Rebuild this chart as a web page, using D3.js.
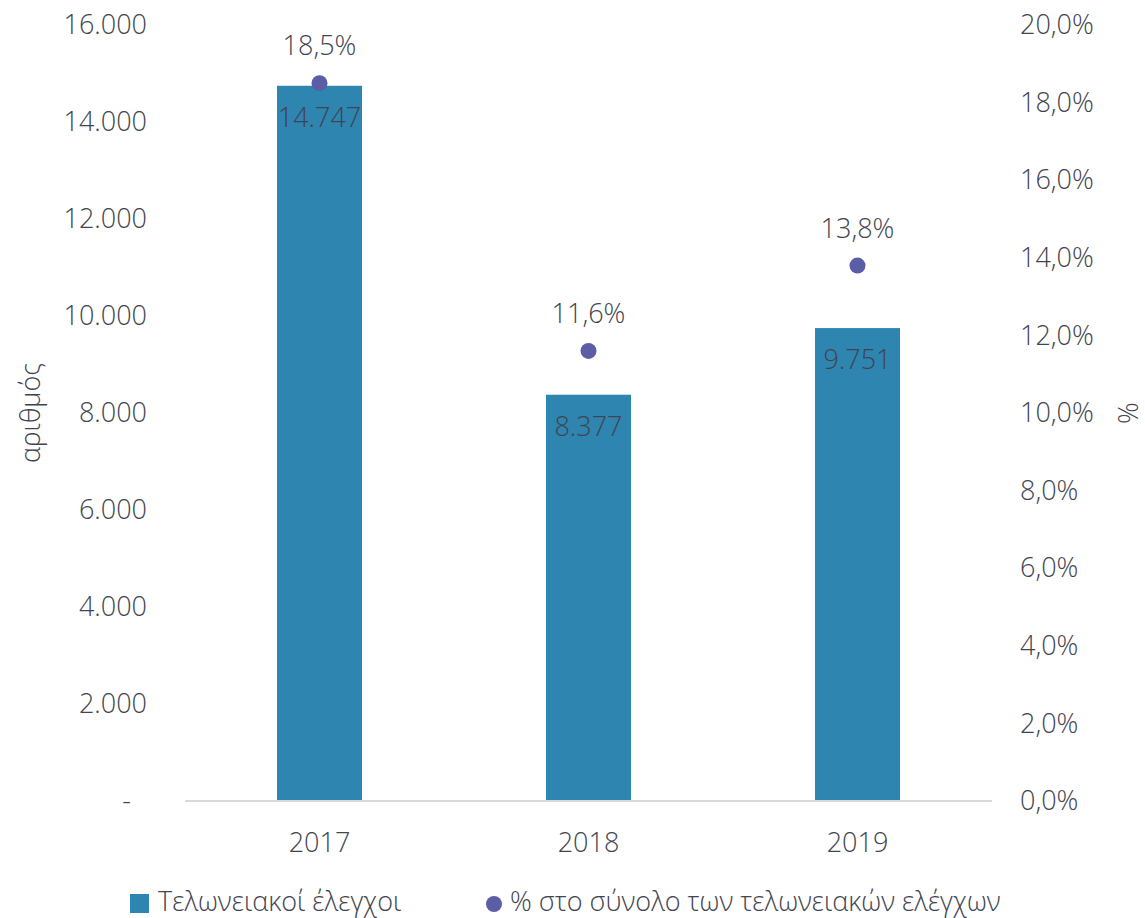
<!DOCTYPE html>
<html>
<head>
<meta charset="utf-8">
<script src="https://cdn.jsdelivr.net/npm/d3@7"></script>
<style>
  body { margin: 0; background: #fff; }
  text { font-family: "Open Sans", "Noto Sans", sans-serif; font-weight: 350; fill: #3f4450; }
</style>
</head>
<body>
<div id="chart"></div>
<script>
// data
const years = ['2017', '2018', '2019'];
const controls = [14747, 8377, 9751];
const shares = [0.185, 0.116, 0.138];
const leftTicks = [0, 2000, 4000, 6000, 8000, 10000, 12000, 14000, 16000];
const rightTicks = [0, 0.02, 0.04, 0.06, 0.08, 0.10, 0.12, 0.14, 0.16, 0.18, 0.20];
const seriesNames = ['Τελωνειακοί έλεγχοι', '% στο σύνολο των τελωνειακών ελέγχων'];

const config = {
    width: 1145,
    height: 918,
    margin: {top: 25, right: 153, bottom: 117, left: 185},
    barColor: '#2e86b0',
    dotColor: '#5b5ea6',
    fontSize: 27
};
const innerW = config.width - config.margin.left - config.margin.right;
const innerH = config.height - config.margin.top - config.margin.bottom;

const svg = d3.select('#chart').append('svg')
    .attr('width', config.width)
    .attr('height', config.height);

const chart = svg.append('g')
    .attr('transform', `translate(${config.margin.left},${config.margin.top})`);

const x = d3.scaleBand().domain(years).range([0, innerW]).paddingInner(0.684).paddingOuter(0.342);
const yL = d3.scaleLinear().domain([0, 16000]).range([innerH, 0]);
const yR = d3.scaleLinear().domain([0, 0.20]).range([innerH, 0]);

const fmtNum = d3.formatLocale({decimal: ',', thousands: '.', grouping: [3], currency: ['', '€']});
const fmtInt = fmtNum.format(',.0f');
const fmtPct = fmtNum.format('.1%');

// left axis
const leftAxis = chart.append('g')
    .call(d3.axisLeft(yL).tickValues(leftTicks).tickSize(0).tickPadding(38)
        .tickFormat(d => d === 0 ? '-' : fmtInt(d)));
leftAxis.select('.domain').remove();
leftAxis.selectAll('text').attr('font-size', config.fontSize).style('font-family', null);
leftAxis.selectAll('.tick').filter(d => d === 0).select('text').attr('dx', -16);

// right axis
const rightAxis = chart.append('g')
    .attr('transform', `translate(${innerW},0)`)
    .call(d3.axisRight(yR).tickValues(rightTicks).tickSize(0).tickPadding(28)
        .tickFormat(fmtPct));
rightAxis.select('.domain').remove();
rightAxis.selectAll('text').attr('font-size', config.fontSize).style('font-family', null);

// bars
chart.selectAll('.bar').data(controls).join('rect')
    .attr('class', 'bar')
    .attr('x', (d, i) => x(years[i]))
    .attr('y', d => yL(d))
    .attr('width', x.bandwidth())
    .attr('height', d => innerH - yL(d))
    .attr('fill', config.barColor);

// baseline
chart.append('line')
    .attr('x1', 0).attr('x2', innerW)
    .attr('y1', innerH).attr('y2', innerH)
    .attr('stroke', '#d9d9d9').attr('stroke-width', 2);

// bar value labels
chart.selectAll('.bar-label').data(controls).join('text')
    .attr('class', 'bar-label')
    .attr('x', (d, i) => x(years[i]) + x.bandwidth() / 2)
    .attr('y', d => yL(d) + 41)
    .attr('text-anchor', 'middle')
    .attr('font-size', config.fontSize)
    .text(d => fmtInt(d));

// dots
chart.selectAll('.dot').data(shares).join('circle')
    .attr('class', 'dot')
    .attr('cx', (d, i) => x(years[i]) + x.bandwidth() / 2)
    .attr('cy', d => yR(d))
    .attr('r', 8)
    .attr('fill', config.dotColor);

chart.selectAll('.dot-label').data(shares).join('text')
    .attr('class', 'dot-label')
    .attr('x', (d, i) => x(years[i]) + x.bandwidth() / 2)
    .attr('y', d => yR(d) - 28)
    .attr('text-anchor', 'middle')
    .attr('font-size', config.fontSize)
    .text(d => fmtPct(d));

// x axis labels
chart.selectAll('.year').data(years).join('text')
    .attr('class', 'year')
    .attr('x', d => x(d) + x.bandwidth() / 2)
    .attr('y', innerH + 51)
    .attr('text-anchor', 'middle')
    .attr('font-size', config.fontSize)
    .text(d => d);

// axis titles
svg.append('text')
    .attr('transform', `translate(40,${config.margin.top + innerH / 2}) rotate(-90)`)
    .attr('text-anchor', 'middle')
    .attr('font-size', config.fontSize)
    .text('αριθμός');

svg.append('text')
    .attr('transform', `translate(1138,${config.margin.top + innerH / 2}) rotate(-90)`)
    .attr('text-anchor', 'middle')
    .attr('font-size', config.fontSize)
    .text('%');

// legend
const legend = svg.append('g');
legend.append('rect')
    .attr('x', 130).attr('y', 894).attr('width', 19).attr('height', 19)
    .attr('fill', config.barColor);
legend.append('text')
    .attr('x', 158).attr('y', 911)
    .attr('font-size', config.fontSize)
    .text(seriesNames[0]);
legend.append('circle')
    .attr('cx', 494).attr('cy', 904).attr('r', 8)
    .attr('fill', config.dotColor);
legend.append('text')
    .attr('x', 510).attr('y', 911)
    .attr('font-size', config.fontSize)
    .text(seriesNames[1]);
</script>
</body>
</html>
